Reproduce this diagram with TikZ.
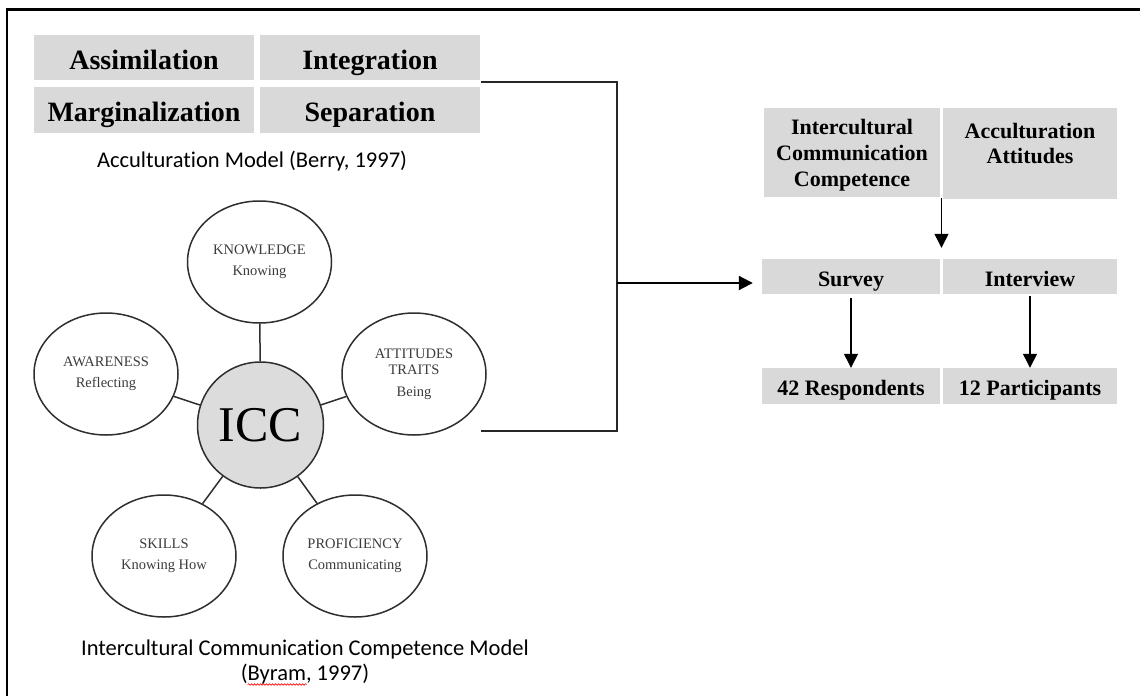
\documentclass[tikz,border=0pt]{standalone}
\usepackage{fontspec}
\setmainfont{Liberation Serif}
\newfontfamily\capfont[Ligatures=NoCommon]{Carlito}
\usetikzlibrary{arrows.meta,shapes.geometric,calc,decorations.pathmorphing}
\definecolor{boxgray}{HTML}{D9D9D9}
\definecolor{iccgray}{HTML}{DCDCDC}
\definecolor{ringcol}{HTML}{2E2E2E}
\definecolor{txtgray}{HTML}{3C3C3C}
\tikzset{
  berry/.style={fill=boxgray, inner sep=0pt, minimum width=220pt,
    text height=25pt, text depth=2pt,
    font=\fontsize{28}{30}\selectfont\bfseries},
  rbox/.style={fill=boxgray, inner sep=0pt, align=center,
    font=\fontsize{22}{26}\selectfont\bfseries},
  rline/.style={rbox, text height=21pt, text depth=1.5pt},
  oval/.style={ellipse, draw=ringcol, line width=1.5pt, fill=white, inner sep=0pt,
    minimum width=144pt, minimum height=122pt, align=center, text=txtgray,
    font=\fontsize{14.5}{21.5}\selectfont},
  hub/.style={circle, draw=ringcol, line width=1.5pt, fill=iccgray, inner sep=0pt,
    minimum size=126pt, font=\fontsize{50}{50}\selectfont},
  spoke/.style={draw=ringcol, line width=1.5pt},
  caption/.style={inner sep=0pt, font=\capfont\fontsize{22.5}{27}\selectfont},
  bracket/.style={draw=black!85, line width=1.8pt},
  flow/.style={draw=black, line width=1.3pt, -{Triangle[length=14pt,width=14pt]}},
  bigflow/.style={draw=black, line width=2pt, -{Triangle[length=14pt,width=14pt]}},
}
\begin{document}
\begin{tikzpicture}[x=1pt,y=-1pt]
\useasboundingbox (0,0) rectangle (1140,696);
% frame
\draw[line width=2.5pt] (7,696) -- (7,9.5) -- (1140,9.5);
% Berry grid
\node[berry, minimum height=45pt] (assim) at (144,57.5) {Assimilation};
\node[berry, minimum height=45pt] (integ) at (370,57.5) {Integration};
\node[berry, minimum height=46pt] (marg) at (144,110) {Marginalization};
\node[berry, minimum height=46pt] (sep) at (370,110) {Separation};
\node[caption, anchor=base] (cap1) at (252,167) {Acculturation Model (Berry, 1997)};
% ICC model
\node[hub] (icc) at (260.5,425) {ICC};
\node[oval] (know) at (259.5,262) {KNOWLEDGE\\Knowing};
\node[oval] (aware) at (106,374) {AWARENESS\\Reflecting};
\node[oval] (att) at (414,374) {ATTITUDES\\[-5pt]TRAITS\\Being};
\node[oval] (skill) at (164,556) {SKILLS\\Knowing How};
\node[oval] (prof) at (355,556) {PROFICIENCY\\Communicating};
\draw[spoke] (icc) -- (know);
\draw[spoke] (icc) -- (aware);
\draw[spoke] (icc) -- (att);
\draw[spoke] (icc) -- (skill);
\draw[spoke] (icc) -- (prof);
\node[caption, anchor=base] (cap2) at (305,655) {Intercultural Communication Competence Model};
\node[caption, anchor=base] (cap3) at (305,680) {(Byram, 1997)};
\draw[red, line width=0.6pt, decorate, decoration={snake, segment length=3pt, amplitude=0.8pt}]
  ($(cap3.base west)+(7,4.5)$) -- ($(cap3.base west)+(66,4.5)$);
% right column
\node[rbox, minimum width=176pt, minimum height=89pt] (icbox) at (852,152.5)
  {\mbox{}\\[-5pt]Intercultural\\Communication\\Competence};
\node[rbox, minimum width=174pt, minimum height=91pt] (aabox) at (1030,153.5)
  {Acculturation\\[-1pt]Attitudes\\[-6pt]\phantom{A}};
\node[rline, minimum width=178pt, minimum height=35pt] (survey) at (851,276.5) {Survey};
\node[rline, minimum width=174pt, minimum height=35pt] (interv) at (1030,276.5) {Interview};
\node[rline, minimum width=178pt, minimum height=36pt] (resp) at (851,386) {42 Respondents};
\node[rline, minimum width=174pt, minimum height=36pt] (part) at (1030,386) {12 Participants};
% bracket
\coordinate (bstart) at ($(integ.south east)!0.5!(sep.north east)+(1,-1.5)$);
\coordinate (btop) at (617,82);
\coordinate (bbot) at (617,431);
\coordinate (bend) at (481,431);
\coordinate (bmid) at (617,283);
\draw[bracket] (bstart) -- (btop) -- (bbot) -- (bend);
\draw[bigflow, shorten >=9pt] (bmid) -- (survey.west |- bmid);
% flows
\coordinate (topgap) at ($(icbox.south east)!0.5!(aabox.south west)$);
\coordinate (midgap) at ($(survey.north east)!0.5!(interv.north west)$);
\draw[flow, shorten >=11pt] (topgap) -- (midgap);
\draw[flow, shorten <=4pt] (survey.south) -- (resp.north);
\draw[flow, shorten <=2pt] (interv.south) -- (part.north);
\end{tikzpicture}
\end{document}
